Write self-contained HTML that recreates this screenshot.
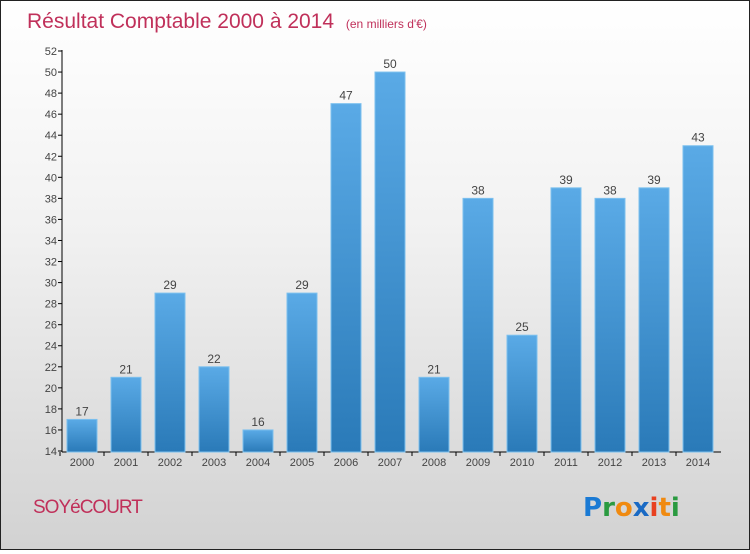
<!DOCTYPE html>
<html><head><meta charset="utf-8"><style>
body{margin:0;width:750px;height:550px;overflow:hidden;font-family:"Liberation Sans",sans-serif}
#wrap{position:relative;width:748px;height:548px;border:1px solid #222;background:linear-gradient(#ffffff 0%,#f2f2f2 40%,#d2d2d2 100%)}
</style></head><body>
<div id="wrap">
<svg id="chart" width="748" height="548">
<defs><linearGradient id="bg" x1="0" y1="0" x2="0" y2="1"><stop offset="0" stop-color="#5aaae6"/><stop offset="1" stop-color="#2a7ab8"/></linearGradient></defs>
<text x="26" y="27" font-size="21" fill="#c0305a">Résultat Comptable 2000 à 2014 <tspan font-size="12" dx="6">(en milliers d'€)</tspan></text>
<text x="32" y="512" font-size="19" fill="#c0305a" letter-spacing="-1">SOYéCOURT</text>
<g font-size="26" font-weight="bold" font-family="'DejaVu Sans',sans-serif"><text x="582" y="515"><tspan fill="#1a7ad4">P</tspan><tspan fill="#2a9a40">r</tspan><tspan fill="#f08a10">o</tspan><tspan fill="#1a6ac4">x</tspan><tspan fill="#e84020">i</tspan><tspan fill="#f08a10">t</tspan><tspan fill="#2a9a40">i</tspan></text></g>
<g id="plot"></g>
</svg></div>
<script>
const years=["2000","2001","2002","2003","2004","2005","2006","2007","2008","2009","2010","2011","2012","2013","2014"];
const values=[17,21,29,22,16,29,47,50,21,38,25,39,38,39,43];
const yTicks=[14,16,18,20,22,24,26,28,30,32,34,36,38,40,42,44,46,48,50,52];
const ns="http://www.w3.org/2000/svg";
const g=document.getElementById('plot');
const y=v=>450-(v-14)*(400/38);
const x=i=>81+44*i;
function mk(t,a){const e=document.createElementNS(ns,t);for(const k in a)e.setAttribute(k,a[k]);g.appendChild(e);return e;}
let ax=mk('line',{x1:61,y1:49,x2:61,y2:451,stroke:'#000'});


let xx=mk('line',{x1:61,y1:451,x2:720,y2:451,stroke:'#000'});


yTicks.forEach(v=>{
 mk('line',{x1:57,y1:y(v),x2:61,y2:y(v),stroke:'#000'});
 const t=mk('text',{x:56,y:y(v)+4,'text-anchor':'end','font-size':11,fill:'#444'});
 t.textContent=v;
 
 
});
values.forEach((v,i)=>{
 const r=mk('rect',{x:x(i)-15,y:y(v),width:30,height:451-y(v),fill:'url(#bg)',stroke:'#7cc0ee','stroke-width':1});
 
 
 const l=mk('text',{x:x(i),y:y(v)-4,'text-anchor':'middle','font-size':12,fill:'#444'});
 l.textContent=v;
 
 
 mk('line',{x1:x(i)-22,y1:451,x2:x(i)-22,y2:455,stroke:'#000'});
 const xl=mk('text',{x:x(i),y:465,'text-anchor':'middle','font-size':11,fill:'#444'});
 xl.textContent=years[i];
 
 
});
</script>
</body></html>
